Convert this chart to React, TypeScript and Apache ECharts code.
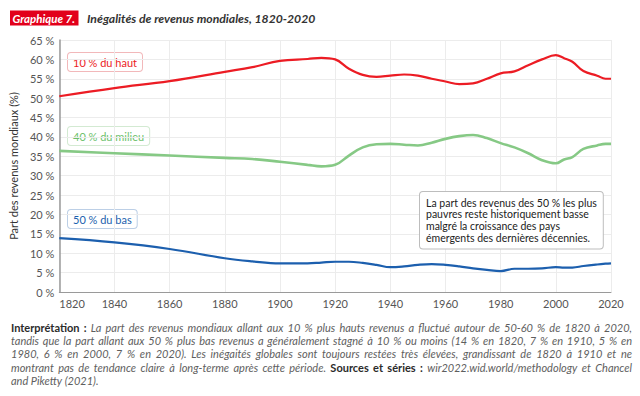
import React, { useEffect, useRef } from "react";
import * as echarts from "echarts";

const years = [1820, 1840, 1860, 1880, 1890, 1900, 1910, 1915, 1920, 1925, 1930, 1935, 1940, 1945, 1950, 1955, 1960, 1965, 1970, 1975, 1980, 1985, 1990, 1995, 2000, 2003, 2006, 2010, 2015, 2018, 2020];
const top10 = [50.5, 52.6, 54.4, 56.8, 58.0, 59.6, 60.1, 60.4, 60.0, 57.6, 56.0, 55.5, 55.8, 56.1, 55.8, 55.0, 54.3, 53.6, 53.8, 55.0, 56.4, 56.9, 58.5, 60.0, 61.1, 60.3, 59.4, 57.0, 55.8, 55.0, 55.0];
const mid40 = [36.4, 35.8, 35.2, 34.6, 34.3, 33.6, 32.8, 32.4, 32.8, 35.2, 37.3, 38.1, 38.2, 38.0, 37.8, 38.5, 39.5, 40.2, 40.5, 39.7, 38.4, 37.3, 35.8, 34.0, 33.2, 34.2, 34.8, 36.9, 37.8, 38.2, 38.2];
const bot50 = [13.9, 12.8, 11.1, 8.7, 7.9, 7.4, 7.4, 7.6, 7.8, 7.8, 7.5, 7.0, 6.4, 6.6, 7.0, 7.2, 7.0, 6.6, 6.1, 5.7, 5.4, 6.0, 6.0, 6.1, 6.4, 6.3, 6.3, 6.7, 7.1, 7.3, 7.4];

const seriesNames = ["10 % du haut", "40 % du milieu", "50 % du bas"];
const seriesColors = ["#ec1c24", "#86c985", "#1c5fae"];
const titleTag = "Graphique 7.";
const titleText = "Inégalités de revenus mondiales, 1820-2020";
const yAxisName = "Part des revenus mondiaux (%)";
const noteText = "La part des revenus des 50 % les plus\npauvres reste historiquement basse\nmalgré la croissance des pays\némergents des dernières décennies.";
const footerLines = [
  "**Interprétation :** La part des revenus mondiaux allant aux 10 % plus hauts revenus a fluctué autour de 50-60 % de 1820 à 2020,",
  "tandis que la part allant aux 50 % plus bas revenus a généralement stagné à 10 % ou moins (14 % en 1820, 7 % en 1910, 5 % en",
  "1980, 6 % en 2000, 7 % en 2020). Les inégaités globales sont toujours restées très élevées, grandissant de 1820 à 1910 et ne",
  "montrant pas de tendance claire à long-terme après cette période. **Sources et séries :** wir2022.wid.world/methodology et Chancel",
  "and Piketty (2021).",
];

const FONT = "Lato, 'Noto Sans', sans-serif";

function measure(text: string, font: string): number {
  const canvas = document.createElement("canvas");
  const ctx = canvas.getContext("2d") as CanvasRenderingContext2D;
  ctx.font = font;
  return ctx.measureText(text).width;
}

function buildFooter(): any[] {
  const size = 11;
  const fontFor = (bold: boolean) => (bold ? `bold ${size}px Lato` : `italic ${size}px Lato`);
  const left = 11;
  const right = 632;
  const y0 = 327;
  const lh = 13.4;
  const out: any[] = [];
  footerLines.forEach((line, li) => {
    const tokens: { text: string; bold: boolean }[] = [];
    let bold = false;
    line.split("**").forEach((part, pi) => {
      if (pi > 0) bold = !bold;
      part.split(" ").filter((w) => w.length > 0).forEach((w) => tokens.push({ text: w, bold }));
    });
    const widths = tokens.map((t) => measure(t.text, fontFor(t.bold)));
    const total = widths.reduce((a, b) => a + b, 0);
    const last = li === footerLines.length - 1;
    const normalGap = measure(" ", fontFor(false));
    const gap = last || tokens.length < 2 ? normalGap : (right - left - total) / (tokens.length - 1);
    let x = left;
    tokens.forEach((t, i) => {
      out.push({
        type: "text",
        x,
        y: y0 + li * lh,
        silent: true,
        style: {
          text: t.text,
          fontFamily: FONT,
          fontSize: size,
          fontStyle: t.bold ? "normal" : "italic",
          fontWeight: t.bold ? "bold" : "normal",
          fill: t.bold ? "#2b2b2b" : "#5e5e5e",
          verticalAlign: "middle",
          align: "left",
        },
      });
      x += widths[i] + gap;
    });
  });
  return out;
}

export default function App() {
  const ref = useRef<HTMLDivElement>(null);
  useEffect(() => {
    document.body.style.margin = "0";
    if (!ref.current) return;
    const chart = echarts.init(ref.current, undefined, { renderer: "svg" });
    const mk = (vals: number[]) => years.map((y, i) => [y, vals[i]]);
    const labelBox = (text: string, color: string, border: string, x: number, y: number) => ({
      type: "text",
      x,
      y,
      silent: true,
      style: {
        text,
        fontFamily: FONT,
        fontSize: 11,
        fill: color,
        backgroundColor: "#ffffff",
        borderColor: border,
        borderWidth: 1,
        borderRadius: 3,
        padding: [4, 5, 3, 5],
      },
    });
    const tagW = measure(titleTag, "italic bold 11.5px Lato");
    const option: any = {
      animation: false,
      backgroundColor: "#ffffff",
      grid: { left: 51, right: 29, top: 40, bottom: 104, containLabel: false },
      xAxis: {
        type: "value",
        min: 1820,
        max: 2020,
        interval: 20,
        axisLine: { show: true, lineStyle: { color: "#9a9a9a", width: 1 } },
        axisTick: { show: false },
        axisLabel: {
          color: "#555",
          fontFamily: FONT,
          fontSize: 11,
          margin: 6,
          alignMinLabel: "left",
          formatter: (v: number) => String(v),
        },
        splitLine: { show: true, lineStyle: { color: "#ececec", width: 1 } },
      },
      yAxis: {
        type: "value",
        min: 0,
        max: 65,
        interval: 5,
        name: yAxisName,
        nameLocation: "middle",
        nameGap: 34,
        nameTextStyle: { color: "#333", fontFamily: FONT, fontSize: 11 },
        axisLine: { show: true, lineStyle: { color: "#9a9a9a", width: 1.5 } },
        axisTick: { show: false },
        axisLabel: { color: "#555", fontFamily: FONT, fontSize: 11, margin: 5, formatter: (v: number) => v + " %" },
        splitLine: { show: true, lineStyle: { color: "#ececec", width: 1 } },
      },
      series: [
        { name: seriesNames[0], type: "line", data: mk(top10), smooth: 0.4, showSymbol: false, lineStyle: { color: seriesColors[0], width: 2.2 }, z: 3 },
        { name: seriesNames[1], type: "line", data: mk(mid40), smooth: 0.4, showSymbol: false, lineStyle: { color: seriesColors[1], width: 2.6 }, z: 3 },
        { name: seriesNames[2], type: "line", data: mk(bot50), smooth: 0.4, showSymbol: false, lineStyle: { color: seriesColors[2], width: 2.2 }, z: 3 },
      ],
      graphic: [
        { type: "rect", shape: { x: 10, y: 10.5, width: tagW + 6, height: 15 }, style: { fill: "#e2001a" }, silent: true },
        {
          type: "text",
          x: 12.5,
          y: 18,
          silent: true,
          style: { text: titleTag, fontFamily: FONT, fontSize: 11.5, fontWeight: "bold", fontStyle: "italic", fill: "#ffffff", verticalAlign: "middle" },
        },
        {
          type: "text",
          x: 87,
          y: 18,
          silent: true,
          style: { text: titleText, fontFamily: FONT, fontSize: 12.2, fontWeight: "bold", fontStyle: "italic", fill: "#333333", verticalAlign: "middle" },
        },
        labelBox(seriesNames[0], seriesColors[0], "#f2b8ba", 68, 53),
        labelBox(seriesNames[1], "#6cbf6b", "#d3ead2", 68, 127),
        labelBox(seriesNames[2], seriesColors[2], "#bccfe6", 68, 210),
        {
          type: "text",
          x: 420,
          y: 192,
          z: 10,
          silent: true,
          style: {
            text: noteText,
            fontFamily: FONT,
            fontSize: 10.5,
            lineHeight: 11.6,
            fill: "#222222",
            backgroundColor: "#ffffff",
            borderColor: "#bdbdbd",
            borderWidth: 1,
            borderRadius: 3,
            padding: [5, 6, 5, 6],
          },
        },
        ...buildFooter(),
      ],
    };
    chart.setOption(option);
    return () => chart.dispose();
  }, []);
  return <div ref={ref} style={{ width: 640, height: 396 }} />;
}
